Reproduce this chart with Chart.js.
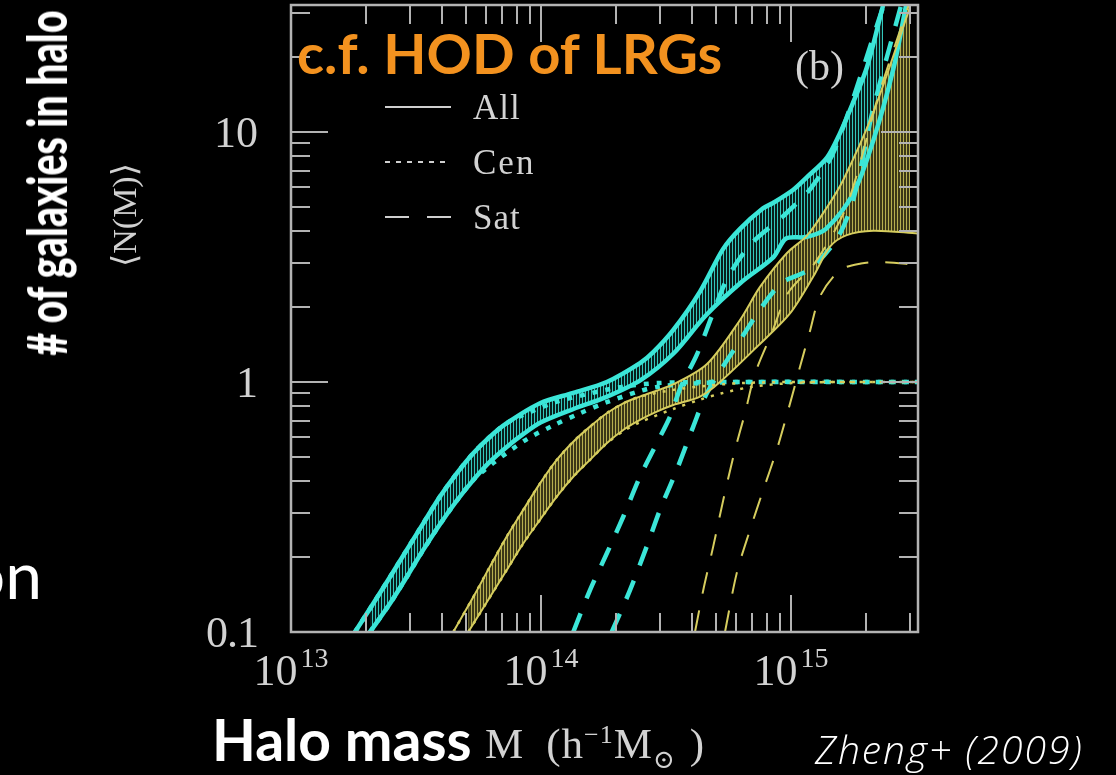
<!DOCTYPE html>
<html>
<head>
<meta charset="utf-8">
<script src="https://cdn.jsdelivr.net/npm/chart.js@4.4.1/dist/chart.umd.min.js"></script>
<style>
  html, body { margin: 0; padding: 0; background: #000; width: 1116px; height: 775px; overflow: hidden; }
  #wrap { position: relative; width: 1116px; height: 775px; }
  canvas { position: absolute; left: 0; top: 0; }
  .t { position: absolute; white-space: nowrap; line-height: 1; }
  .serif { font-family: "Liberation Serif", "DejaVu Serif", serif; color: #d2d2d2; }
  .sans { font-family: "Lato", "Open Sans", sans-serif; }
  .lg { position: absolute; left: 385px; height: 2px; }
</style>
</head>
<body>
<div id="wrap">
  <canvas id="c" width="1116" height="775"></canvas>

  <div class="t sans fit" data-w="425" style="left:297px; top:25px; font-size:56px; font-weight:700; color:#f3921f; transform-origin:0 0;">c.f. HOD of LRGs</div>
  <div class="t serif" style="left:795px; top:45px; font-size:42px;">(b)</div>

  <div class="lg" style="top:106px; width:66px; background:#cfcfcf;"></div>
  <div class="lg" style="top:161px; width:62px; background:repeating-linear-gradient(90deg,#cfcfcf 0 5px,transparent 5px 11px);"></div>
  <div class="lg" style="top:216px; width:66px; background:repeating-linear-gradient(90deg,#cfcfcf 0 24px,transparent 24px 42px);"></div>
  <div class="t serif" style="left:473px; top:90px; font-size:35px; letter-spacing:1px;">All</div>
  <div class="t serif" style="left:473px; top:145px; font-size:35px; letter-spacing:2px;">Cen</div>
  <div class="t serif" style="left:473px; top:200px; font-size:35px; letter-spacing:1px;">Sat</div>

  <div id="ytitle" class="t sans" style="left:46px; top:183px; font-size:56px; font-weight:900; color:#fff;"># of galaxies in halo</div>
  <div class="t serif" style="left:125px; top:215px; transform:translate(-50%,-50%) rotate(-90deg); font-size:34px;">&#10216;N(M)&#10217;</div>
  <div class="t sans" style="right:1074px; top:541px; font-size:66px; color:#fff;">on</div>

  <div class="t sans" style="left:212px; top:711px; font-size:57px; font-weight:700; color:#fff;">Halo mass</div>
  <div class="t serif" style="left:485px; top:722px; font-size:43px; letter-spacing:1px;">M<span style="margin-left:22px;">(h<sup style="font-size:26px;">&minus;1</sup>M<sub style="font-size:26px;">&#8857;</sub><span style="margin-left:14px;">)</span></span></div>
  <div class="t" style="left:815px; top:729px; font-family:'Open Sans',sans-serif; font-size:39px; font-weight:300; font-style:italic; letter-spacing:2px; color:#fff;">Zheng+ (2009)</div>
</div>
<script>
// log10 of halo mass (h^-1 Msun) and <N(M)>
const cyanAllUpLogM = [13.256, 13.329, 13.396, 13.463, 13.529, 13.596, 13.663, 13.729, 13.796, 13.863, 13.996, 14.129, 14.263, 14.396, 14.45, 14.53, 14.636, 14.728, 14.796, 14.888, 14.928, 15.008, 15.064, 15.144, 15.196, 15.248, 15.304, 15.368];
const cyanAllUpN    = [0.1, 0.13, 0.166, 0.213, 0.272, 0.348, 0.431, 0.519, 0.604, 0.684, 0.822, 0.905, 1.0, 1.19, 1.32, 1.62, 2.3, 3.4, 4.1, 4.95, 5.2, 5.86, 6.6, 7.9, 9.9, 13.1, 18.2, 32];
const cyanAllLoLogM = [13.316, 13.396, 13.463, 13.529, 13.596, 13.663, 13.729, 13.796, 13.863, 13.93, 14.0, 14.13, 14.26, 14.4, 14.53, 14.66, 14.8, 14.93, 14.98, 15.06, 15.14, 15.25, 15.33, 15.41, 15.46];
const cyanAllLoN    = [0.1, 0.13, 0.166, 0.213, 0.27, 0.335, 0.405, 0.48, 0.55, 0.62, 0.69, 0.78, 0.87, 1.02, 1.3, 1.85, 2.5, 3.16, 3.75, 3.8, 4.1, 5.7, 9.3, 18, 32];
const cyanCenUpLogM = [13.256, 13.329, 13.396, 13.463, 13.529, 13.596, 13.663, 13.729, 13.796, 13.863, 13.929, 14.063, 14.196, 14.329, 14.463, 14.7, 15.51];
const cyanCenUpN    = [0.1, 0.13, 0.166, 0.213, 0.272, 0.348, 0.431, 0.519, 0.604, 0.684, 0.738, 0.834, 0.9, 0.958, 0.99, 1.0, 1.0];
const cyanCenLoLogM = [13.316, 13.396, 13.463, 13.529, 13.596, 13.663, 13.729, 13.81, 13.943, 14.049, 14.156, 14.263, 14.396, 14.463, 14.6, 14.8, 15.51];
const cyanCenLoN    = [0.1, 0.13, 0.166, 0.213, 0.27, 0.335, 0.405, 0.475, 0.59, 0.67, 0.75, 0.83, 0.92, 0.955, 0.985, 1.0, 1.0];
const cyanSatALogM  = [14.129, 14.196, 14.263, 14.329, 14.396, 14.463, 14.516, 14.56, 14.624, 14.684, 14.748, 14.844, 14.968, 15.08, 15.176, 15.37];
const cyanSatAN     = [0.1, 0.147, 0.206, 0.289, 0.418, 0.569, 0.727, 0.96, 1.29, 1.84, 2.63, 3.6, 4.6, 5.97, 8.55, 32];
const cyanSatBLogM  = [14.283, 14.356, 14.423, 14.476, 14.543, 14.609, 14.663, 14.764, 14.952, 15.076, 15.188, 15.252, 15.328, 15.44];
const cyanSatBN     = [0.1, 0.147, 0.22, 0.308, 0.445, 0.663, 0.9, 1.31, 2.44, 2.83, 3.8, 5.5, 12.3, 32];

const yelAllUpLogM  = [13.649, 13.729, 13.796, 13.863, 13.929, 13.996, 14.063, 14.129, 14.196, 14.263, 14.329, 14.396, 14.53, 14.664, 14.796, 14.876, 14.984, 15.064, 15.144, 15.208, 15.328, 15.476];
const yelAllUpN     = [0.1, 0.138, 0.183, 0.241, 0.308, 0.393, 0.488, 0.577, 0.663, 0.75, 0.822, 0.874, 0.98, 1.18, 1.77, 2.4, 3.28, 3.85, 5.0, 6.4, 11.9, 31.6];
const yelAllLoLogM  = [13.709, 13.796, 13.863, 13.929, 13.996, 14.063, 14.129, 14.196, 14.263, 14.329, 14.396, 14.463, 14.529, 14.636, 14.716, 14.863, 14.996, 15.089, 15.156, 15.223, 15.329, 15.508];
const yelAllLoN     = [0.1, 0.138, 0.177, 0.226, 0.281, 0.348, 0.418, 0.488, 0.569, 0.643, 0.705, 0.761, 0.809, 0.874, 1.0, 1.38, 1.88, 2.64, 3.48, 3.87, 4.03, 3.93];
const yelCenUpLogM  = [13.649, 13.729, 13.796, 13.863, 13.929, 13.996, 14.063, 14.129, 14.196, 14.263, 14.329, 14.396, 14.53, 14.66, 14.80, 15.0, 15.508];
const yelCenUpN     = [0.1, 0.138, 0.183, 0.241, 0.308, 0.393, 0.488, 0.577, 0.663, 0.75, 0.822, 0.874, 0.93, 0.965, 0.99, 1.0, 1.0];
const yelCenLoLogM  = [13.709, 13.796, 13.863, 13.929, 13.996, 14.063, 14.129, 14.196, 14.263, 14.329, 14.396, 14.529, 14.636, 14.72, 14.84, 15.0, 15.2, 15.508];
const yelCenLoN     = [0.1, 0.138, 0.177, 0.226, 0.281, 0.348, 0.418, 0.488, 0.569, 0.635, 0.69, 0.78, 0.85, 0.9, 0.955, 0.99, 1.0, 1.0];
const yelSatALogM   = [14.616, 14.649, 14.689, 14.729, 14.776, 14.816, 14.856, 14.923, 14.988, 15.099, 15.224, 15.35, 15.47];
const yelSatAN      = [0.1, 0.147, 0.22, 0.337, 0.535, 0.75, 1.08, 1.57, 2.27, 3.03, 5.1, 14, 32];
const yelSatBLogM   = [14.736, 14.783, 14.836, 14.889, 14.943, 14.989, 15.036, 15.076, 15.116, 15.196, 15.28, 15.356, 15.508];
const yelSatBN      = [0.1, 0.172, 0.256, 0.37, 0.535, 0.773, 1.15, 1.6, 2.2, 2.8, 2.98, 3.02, 2.94];

const xMin = 1e13, xMax = 10 ** 15.508;
const yMin = 0.1, yMax = 10 ** 1.508;

const cyan = '#3be6d8';
const yellow = '#d6cd5e';

function pts(logM, n) {
  return logM.map((v, i) => ({ x: 10 ** v, y: n[i] }));
}

function hatch(lineColor, gapColor) {
  const c = document.createElement('canvas');
  c.width = 3; c.height = 1;
  const g = c.getContext('2d');
  g.fillStyle = gapColor; g.fillRect(0, 0, 3, 1);
  g.fillStyle = lineColor; g.fillRect(0, 0, 1, 1);
  return g.createPattern(c, 'repeat');
}

function line(data, color, width, dash, fill, bg) {
  return {
    data, borderColor: color, borderWidth: width, borderDash: dash || [],
    fill: fill || false, backgroundColor: bg || 'transparent', pointRadius: 0,
  };
}

// squeeze the display texts to the width they take in the figure
document.querySelectorAll('.fit').forEach(el => {
  el.style.transform = `scaleX(${el.dataset.w / el.offsetWidth})`;
});
const yt = document.getElementById('ytitle');
yt.style.transform = `translate(-50%,-50%) rotate(-90deg) scaleX(${345 / yt.offsetWidth})`;

const ctx = document.getElementById('c').getContext('2d');
const cyanHatch = hatch('rgba(59,230,216,0.85)', 'rgba(30,120,112,0.25)');
const yelHatch = hatch('rgba(214,205,94,0.8)', 'rgba(90,85,35,0.65)');

// frame, inward ticks and tick labels, placed through the chart's scales
const frame = {
  id: 'frame',
  afterDatasetsDraw(chart) {
    const { ctx, chartArea: a, scales: { x, y } } = chart;
    const mant = v => {
      const e = Math.floor(Math.log10(v) + 1e-9);
      const m = v / 10 ** e;
      return Math.abs(m - Math.round(m)) < 1e-6 ? Math.round(m) : null;
    };
    ctx.save();
    ctx.strokeStyle = '#b3b3b3';
    ctx.lineWidth = 2;
    ctx.beginPath();
    x.ticks.forEach(t => {
      const m = mant(t.value);
      if (m === null) return;
      const px = Math.round(x.getPixelForValue(t.value));
      const len = m === 1 ? 37 : 19;
      ctx.moveTo(px, a.bottom); ctx.lineTo(px, a.bottom - len);
      ctx.moveTo(px, a.top); ctx.lineTo(px, a.top + len);
    });
    y.ticks.forEach(t => {
      const m = mant(t.value);
      if (m === null) return;
      const py = Math.round(y.getPixelForValue(t.value));
      const len = m === 1 ? 37 : 19;
      ctx.moveTo(a.left, py); ctx.lineTo(a.left + len, py);
      ctx.moveTo(a.right, py); ctx.lineTo(a.right - len, py);
    });
    ctx.stroke();
    ctx.lineWidth = 2.5;
    ctx.strokeRect(a.left, a.top, a.right - a.left, a.bottom - a.top);

    ctx.fillStyle = '#d2d2d2';
    ctx.textBaseline = 'alphabetic';
    ctx.textAlign = 'right';
    ctx.font = '44px "Liberation Serif"';
    y.ticks.forEach(t => {
      if (mant(t.value) !== 1) return;
      const py = y.getPixelForValue(t.value);
      const s = String(Math.round(t.value * 10) / 10);
      ctx.letterSpacing = s.includes('.') ? '-1px' : '0px';
      ctx.fillText(s, a.left - 33, py + 15);
    });
    ctx.letterSpacing = '0px';
    ctx.textAlign = 'left';
    x.ticks.forEach(t => {
      if (mant(t.value) !== 1) return;
      const px = x.getPixelForValue(t.value);
      const e = String(Math.round(Math.log10(t.value)));
      ctx.font = '44px "Liberation Serif"';
      const w1 = ctx.measureText('10').width;
      ctx.font = '28px "Liberation Serif"';
      const w2 = ctx.measureText(e).width;
      const x0 = px - (w1 + 3 + w2) / 2;
      ctx.font = '44px "Liberation Serif"';
      ctx.fillText('10', x0, 685);
      ctx.font = '28px "Liberation Serif"';
      ctx.fillText(e, x0 + w1 + 3, 667);
    });
    ctx.restore();
  }
};

new Chart(ctx, {
  type: 'line',
  data: {
    datasets: [
      line(pts(yelAllUpLogM, yelAllUpN), yellow, 2),
      line(pts(yelAllLoLogM, yelAllLoN), yellow, 2, [], '-1', yelHatch),
      line(pts(yelCenUpLogM, yelCenUpN), yellow, 2.5, [3, 7]),
      line(pts(yelCenLoLogM, yelCenLoN), yellow, 2.5, [3, 7]),
      line(pts(yelSatALogM, yelSatAN), yellow, 2, [22, 17]),
      line(pts(yelSatBLogM, yelSatBN), yellow, 2, [22, 17]),
      line(pts(cyanAllUpLogM, cyanAllUpN), cyan, 4.5),
      line(pts(cyanAllLoLogM, cyanAllLoN), cyan, 4.5, [], '-1', cyanHatch),
      line(pts(cyanCenUpLogM, cyanCenUpN), cyan, 4.5, [5, 8]),
      line(pts(cyanCenLoLogM, cyanCenLoN), cyan, 4.5, [5, 8]),
      line(pts(cyanSatALogM, cyanSatAN), cyan, 4.5, [20, 16]),
      line(pts(cyanSatBLogM, cyanSatBN), cyan, 4.5, [20, 16]),
    ],
  },
  options: {
    responsive: false,
    animation: false,
    devicePixelRatio: 1,
    layout: { padding: { left: 0, top: 5, right: 198, bottom: 0 } },
    elements: { line: { tension: 0.3 }, point: { radius: 0 } },
    plugins: {
      legend: { display: false },
      tooltip: { enabled: false },
      filler: { drawTime: 'beforeDatasetsDraw', propagate: false },
    },
    scales: {
      x: {
        type: 'logarithmic', min: xMin, max: xMax,
        ticks: { display: false }, grid: { display: false }, border: { display: false },
        afterFit: s => { s.height = 143; },
      },
      y: {
        type: 'logarithmic', min: yMin, max: yMax,
        ticks: { display: false }, grid: { display: false }, border: { display: false },
        afterFit: s => { s.width = 291; },
      },
    },
  },
  plugins: [frame],
});
</script>
</body>
</html>
